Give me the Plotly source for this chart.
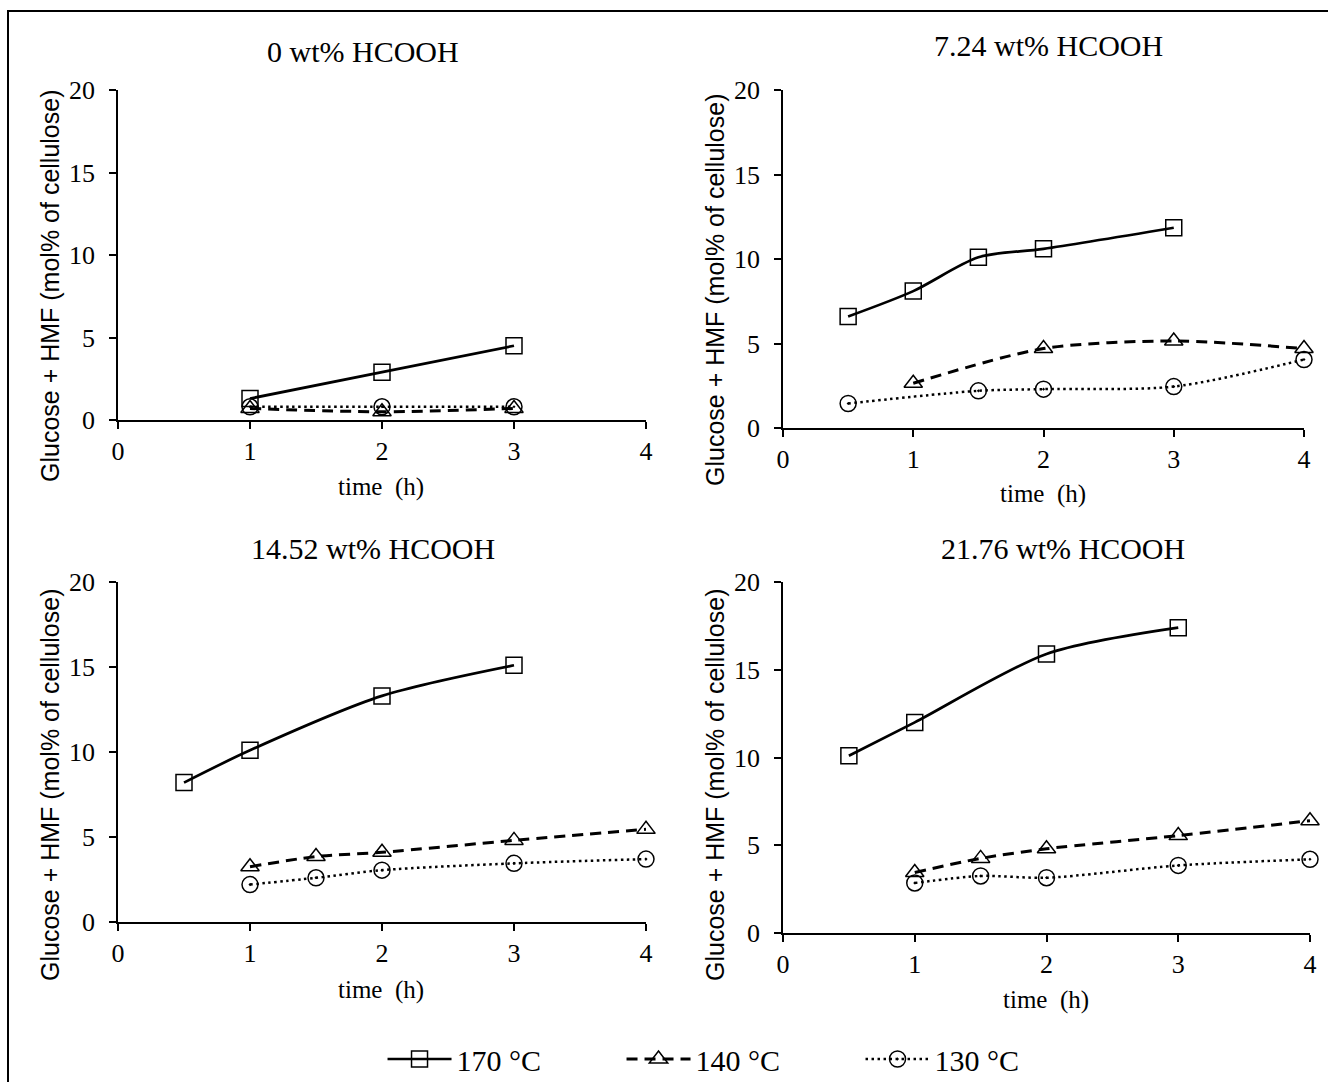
import plotly.graph_objects as go

# ---------------- data ----------------
panel_titles = ["0 wt% HCOOH", "7.24 wt% HCOOH", "14.52 wt% HCOOH", "21.76 wt% HCOOH"]
series_names = ["170 °C", "140 °C", "130 °C"]

# panel 1 : 0 wt%
p1_t170 = [1, 2, 3]
p1_y170 = [1.3, 2.9, 4.5]
p1_t140 = [1, 2, 3]
p1_y140 = [0.7, 0.5, 0.7]
p1_t130 = [1, 2, 3]
p1_y130 = [0.8, 0.8, 0.8]

# panel 2 : 7.24 wt%
p2_t170 = [0.5, 1, 1.5, 2, 3]
p2_y170 = [6.6, 8.1, 10.1, 10.6, 11.85]
p2_t140 = [1, 2, 3, 4]
p2_y140 = [2.65, 4.7, 5.15, 4.7]
p2_t130 = [0.5, 1.5, 2, 3, 4]
p2_y130 = [1.45, 2.2, 2.3, 2.45, 4.05]

# panel 3 : 14.52 wt%
p3_t170 = [0.5, 1, 2, 3]
p3_y170 = [8.2, 10.1, 13.3, 15.1]
p3_t140 = [1, 1.5, 2, 3, 4]
p3_y140 = [3.25, 3.85, 4.1, 4.8, 5.45]
p3_t130 = [1, 1.5, 2, 3, 4]
p3_y130 = [2.2, 2.6, 3.05, 3.45, 3.7]

# panel 4 : 21.76 wt%
p4_t170 = [0.5, 1, 2, 3]
p4_y170 = [10.1, 12.0, 15.9, 17.4]
p4_t140 = [1, 1.5, 2, 3, 4]
p4_y140 = [3.45, 4.25, 4.8, 5.55, 6.4]
p4_t130 = [1, 1.5, 2, 3, 4]
p4_y130 = [2.85, 3.25, 3.15, 3.85, 4.2]

x_ticks = [0, 1, 2, 3, 4]
y_ticks = [0, 5, 10, 15, 20]

panels = [
    (p1_t170, p1_y170, p1_t140, p1_y140, p1_t130, p1_y130),
    (p2_t170, p2_y170, p2_t140, p2_y140, p2_t130, p2_y130),
    (p3_t170, p3_y170, p3_t140, p3_y140, p3_t130, p3_y130),
    (p4_t170, p4_y170, p4_t140, p4_y140, p4_t130, p4_y130),
]

# ---------------- layout geometry (pixels) ----------------
W, H = 1328, 1082
# (x0, x1, ytop, ybottom) of plotting area in pixels
boxes = [(118, 646, 90, 420), (783, 1304, 90, 428), (118, 646, 582, 922), (783, 1310, 582, 933)]
title_pos = [(363, 52), (1048, 46), (373, 548), (1063, 548)]
xtitle_pos = [(381, 487), (1043, 494), (381, 990), (1046, 1000)]
ytitle_pos = [(50, 286), (715, 290), (50, 785), (715, 785)]

SERIF = "Liberation Serif, Times New Roman, serif"
SANS = "Liberation Sans, Arial, sans-serif"

styles = [
    dict(line=dict(color="black", width=2.7, dash="solid", shape="spline", smoothing=0.8),
         marker=dict(symbol="square-open", size=16, color="black", line=dict(width=1.5, color="black"))),
    dict(line=dict(color="black", width=3, dash="11px,7px", shape="spline", smoothing=0.8),
         marker=dict(symbol="triangle-up-open", size=16, color="black", line=dict(width=1.5, color="black"))),
    dict(line=dict(color="black", width=2.5, dash="2.5px,3.5px", shape="spline", smoothing=0.8),
         marker=dict(symbol="circle-open-dot", size=16, color="black", line=dict(width=1.5, color="black"))),
]

fig = go.Figure()
annotations = []
for i, (data, box) in enumerate(zip(panels, boxes)):
    n = i + 1
    xa = "x" if n == 1 else f"x{n}"
    ya = "y" if n == 1 else f"y{n}"
    for k in range(3):
        fig.add_trace(go.Scatter(
            x=data[2 * k], y=data[2 * k + 1], mode="lines+markers",
            name=series_names[k], legendgroup=series_names[k], showlegend=(i == 0),
            xaxis=xa, yaxis=ya, cliponaxis=False, **styles[k]))
    x0, x1, yt, yb = box
    axis_common = dict(showline=True, linecolor="black", linewidth=1.5, showgrid=False, zeroline=False,
                       ticks="outside", ticklen=7, tickwidth=1.5, tickcolor="black",
                       tickfont=dict(family=SERIF, size=26, color="black"), fixedrange=True)
    fig.layout[f"xaxis{'' if n == 1 else n}"] = dict(
        domain=[x0 / W, x1 / W], range=[0, 4], tickvals=x_ticks, anchor=ya,
        ticklabelstandoff=0, **axis_common)
    fig.layout[f"yaxis{'' if n == 1 else n}"] = dict(
        domain=[1 - yb / H, 1 - yt / H], range=[0, 20], tickvals=y_ticks, anchor=xa,
        ticklabelstandoff=9, **axis_common)
    tx, ty = title_pos[i]
    annotations.append(dict(text=panel_titles[i], x=tx / W, y=1 - ty / H, xref="paper", yref="paper",
                            showarrow=False, xanchor="center", yanchor="middle",
                            font=dict(family=SERIF, size=30, color="black")))
    tx, ty = xtitle_pos[i]
    annotations.append(dict(text="time  (h)", x=tx / W, y=1 - ty / H, xref="paper", yref="paper",
                            showarrow=False, xanchor="center", yanchor="middle",
                            font=dict(family=SERIF, size=25, color="black")))
    tx, ty = ytitle_pos[i]
    annotations.append(dict(text="Glucose + HMF (mol% of cellulose)", x=tx / W, y=1 - ty / H,
                            xref="paper", yref="paper", showarrow=False, textangle=-90,
                            xanchor="center", yanchor="middle",
                            font=dict(family=SANS, size=25, color="black")))

fig.update_layout(
    width=W, height=H, margin=dict(l=0, r=0, t=0, b=0, autoexpand=False),
    paper_bgcolor="white", plot_bgcolor="white",
    annotations=annotations,
    shapes=[dict(type="rect", xref="paper", yref="paper", x0=8 / W, x1=1.02, y0=-0.02, y1=1 - 11 / H,
                 line=dict(color="black", width=2), fillcolor="rgba(0,0,0,0)", layer="above")],
    legend=dict(orientation="h", x=0.558, xanchor="center", y=1 - 1059 / H, yanchor="middle",
                font=dict(family=SERIF, size=30, color="black"), itemwidth=64,
                entrywidth=160, entrywidthmode="pixels", bgcolor="rgba(0,0,0,0)"),
    showlegend=True,
)

fig.write_html("out.html")
